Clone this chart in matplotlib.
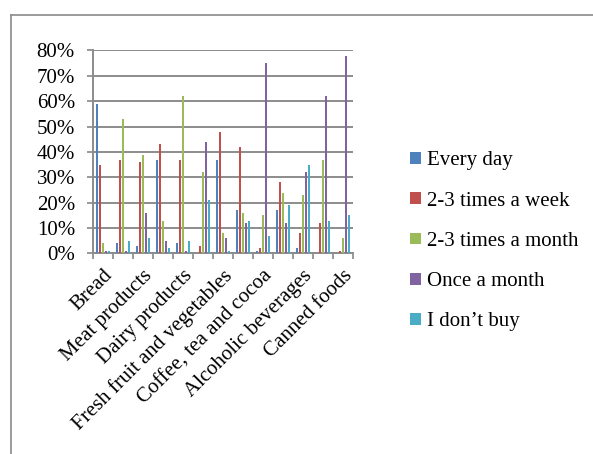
import numpy as np
import matplotlib.pyplot as plt
from matplotlib.lines import Line2D
from matplotlib.ticker import FuncFormatter

plt.rcParams['font.family'] = ['Liberation Serif', 'DejaVu Serif']

# 13 product groups; only every other name fits under the axis
categories = ['Bread', '', 'Meat products', '', 'Dairy products', '',
              'Fresh fruit and vegetables', '', 'Coffee, tea and cocoa', '',
              'Alcoholic beverages', '', 'Canned foods']

series = ['Every day', '2-3 times a week', '2-3 times a month',
          'Once a month', 'I don\u2019t buy']

every_day = [59, 4, 3, 37, 4, 0, 37, 17, 1, 17, 2, 0, 0]
week = [35, 37, 36, 43, 37, 3, 48, 42, 2, 28, 8, 12, 1]
month = [4, 53, 39, 13, 62, 32, 8, 16, 15, 24, 23, 37, 6]
once_month = [1, 1, 16, 5, 1, 44, 6, 12, 75, 12, 32, 62, 78]
dont_buy = [1, 5, 6, 2, 5, 21, 1, 13, 7, 19, 35, 13, 15]

colors = ['#4F81BD', '#C0504D', '#9BBB59', '#8064A2', '#4BACC6']
fs = 15

fig = plt.figure(figsize=(5.93, 4.54), dpi=100)
ax = fig.add_axes([93 / 593, 1 - 253.5 / 454, 260 / 593, 203 / 454])

x = np.arange(len(categories))
w = 1 / 6.5
data = [every_day, week, month, once_month, dont_buy]
for k, (vals, name, c) in enumerate(zip(data, series, colors)):
    ax.bar(x + (k - 2) * w, np.array(vals) / 100, width=w * 0.85,
           color=c, label=name, zorder=3)

ax.set_xlim(-0.5, len(categories) - 0.5)
ax.set_ylim(0, 0.8)
ax.set_yticks(np.arange(0, 0.81, 0.1))
ax.yaxis.set_major_formatter(FuncFormatter(lambda v, p: f'{v * 100:.0f}%'))
ax.tick_params(axis='y', length=4, width=1.2, color='#888888',
               labelsize=fs, pad=9)
ax.grid(axis='y', color='#8c8c8c', lw=1.4, zorder=1)

# category boundaries get the ticks, names sit under the centres
ax.set_xticks(np.arange(-0.5, len(categories)), minor=True)
ax.set_xticks(x[::2])
ax.set_xticklabels(categories[::2], rotation=45, ha='right', va='top',
                   rotation_mode='anchor', fontsize=fs)
ax.tick_params(axis='x', which='major', length=0, pad=9)
ax.tick_params(axis='x', which='minor', length=4, width=1.2, color='#888888')

for side in ['top', 'right']:
    ax.spines[side].set_visible(False)
for side in ['left', 'bottom']:
    ax.spines[side].set_color('#8c8c8c')
    ax.spines[side].set_linewidth(1.4)

# outer frame of the chart area
fig.add_artist(Line2D([11 / 593, 11 / 593], [0, 1 - 15 / 454],
                      color='#8a8a8a', lw=1.2))
fig.add_artist(Line2D([11 / 593, 1], [1 - 15 / 454, 1 - 15 / 454],
                      color='#8a8a8a', lw=1.2))

fig.legend(loc='upper left', bbox_to_anchor=(402 / 593, 1 - 143 / 454),
           frameon=False, fontsize=fs, handlelength=0.5, handleheight=0.5,
           handletextpad=0.3, labelspacing=1.02, borderaxespad=0)

fig.savefig('out.png', dpi=100, facecolor='white')
